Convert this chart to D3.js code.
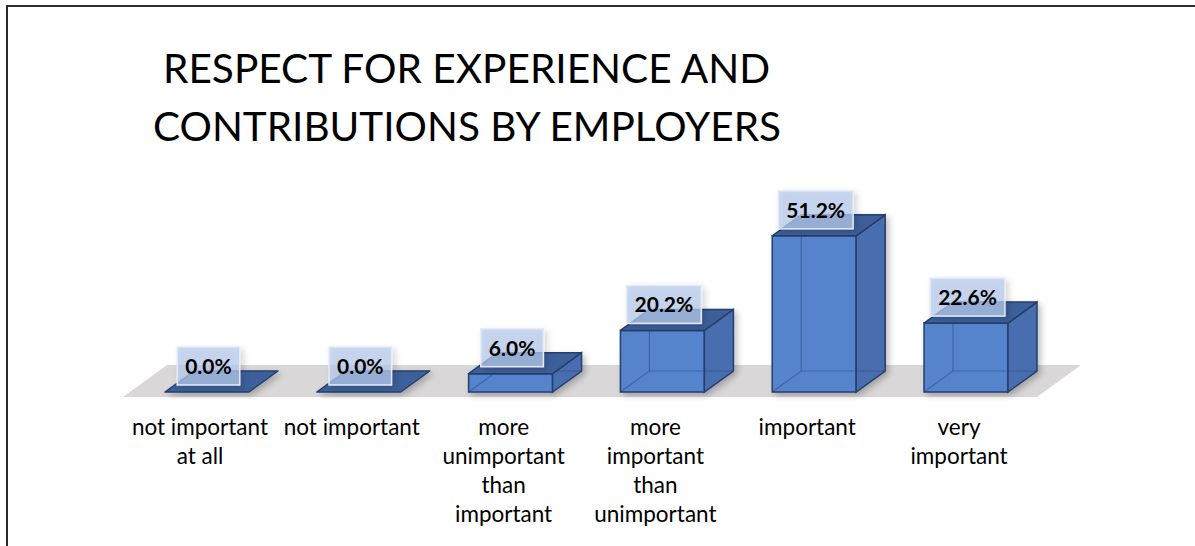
<!DOCTYPE html>
<html><head><meta charset="utf-8">
<script src="https://cdn.jsdelivr.net/npm/d3@7/dist/d3.min.js"></script>
<style>html,body{margin:0;padding:0;background:#fff;}svg{display:block;}</style>
</head><body>
<svg id="chart" width="1195" height="546"></svg>
<script>
// ---- data ----
const titleLines = ["RESPECT FOR EXPERIENCE AND", "CONTRIBUTIONS BY EMPLOYERS"];
const categories = ["not important at all", "not important", "more unimportant than important",
                    "more important than unimportant", "important", "very important"];
const categoryLines = [["not important", "at all"], ["not important"], ["more", "unimportant", "than", "important"],
                       ["more", "important", "than", "unimportant"], ["important"], ["very", "important"]];
const values = [0.0, 0.0, 6.0, 20.2, 51.2, 22.6];
const valueLabels = ["0.0%", "0.0%", "6.0%", "20.2%", "51.2%", "22.6%"];

// ---- layout ----
const svg = d3.select("#chart");
const FONT = "Lato, 'Open Sans', sans-serif";
const DX = 29, DY = 21;          // bar depth offset
const FDX = 44, FDY = 32;        // floor depth offset

const x = d3.scaleBand().domain(categories).range([165, 1008]).paddingInner(0.447).paddingOuter(0);
const y = d3.scaleLinear().domain([0, 60]).range([392, 209]);

const defs = svg.append("defs");
const sh = defs.append("filter").attr("id", "shadow").attr("x", "-30%").attr("y", "-30%").attr("width", "160%").attr("height", "160%");
sh.append("feDropShadow").attr("dx", 3).attr("dy", 3).attr("stdDeviation", 3).attr("flood-color", "#000").attr("flood-opacity", 0.25);
const sh2 = defs.append("filter").attr("id", "lshadow").attr("x", "-30%").attr("y", "-30%").attr("width", "160%").attr("height", "160%");
sh2.append("feDropShadow").attr("dx", 3).attr("dy", 3).attr("stdDeviation", 3).attr("flood-color", "#000").attr("flood-opacity", 0.2);

// frame
svg.append("rect").attr("x", 7).attr("y", 6).attr("width", 1300).attr("height", 700)
  .attr("fill", "none").attr("stroke", "#2b2b2b").attr("stroke-width", 2);

// helper to fit text widths
function fitText(sel, target, min, max) {
  const w = sel.node().getComputedTextLength();
  if (w > 0) {
    const r = target / w;
    if (r > min && r < max) sel.attr("textLength", target).attr("lengthAdjust", "spacingAndGlyphs");
  }
}

// title
const titleX = [163, 153], titleW = [607, 628], titleY = [83, 141];
titleLines.forEach((t, i) => {
  const s = svg.append("text").attr("x", titleX[i]).attr("y", titleY[i])
    .attr("font-family", FONT).attr("font-size", 40).attr("fill", "#000").text(t);
  fitText(s, titleW[i], 0.8, 1.25);
});

// floor
const x0 = x.range()[0], x1 = x.range()[1];
const fy = y(0) + 5;
const floorPts = [[x0 - 42, fy], [x1 + 29, fy], [x1 + 29 + FDX, fy - FDY], [x0 - 42 + FDX, fy - FDY]];
svg.append("polygon").attr("points", floorPts.map(p => p.join(",")).join(" ")).attr("fill", "#d9d7d8");

// bars
const g = svg.append("g");
categories.forEach((c, i) => {
  const v = values[i];
  const xl = x(c), xr = x(c) + x.bandwidth();
  const yb = y(0), yt = y(v);
  const bg = g.append("g").attr("filter", "url(#shadow)");
  const pts = a => a.map(p => p.join(",")).join(" ");
  const edge = "#243f6e";
  if (yb - yt > 0.5) {
    bg.append("polygon").attr("points", pts([[xl, yt], [xr, yt], [xr, yb], [xl, yb]]))
      .attr("fill", "#5584cd").attr("stroke", edge).attr("stroke-width", 1.5);
    bg.append("polygon").attr("points", pts([[xr, yt], [xr + DX, yt - DY], [xr + DX, yb - DY], [xr, yb]]))
      .attr("fill", "#4a6eb0").attr("stroke", edge).attr("stroke-width", 1.5);
    const hid = "rgba(35,65,120,0.45)";
    bg.append("line").attr("x1", xl).attr("y1", yb).attr("x2", xl + DX).attr("y2", yb - DY).attr("stroke", hid).attr("stroke-width", 1.2);
    bg.append("line").attr("x1", xl + DX).attr("y1", yb - DY).attr("x2", xl + DX).attr("y2", yt - DY).attr("stroke", hid).attr("stroke-width", 1.2);
    bg.append("line").attr("x1", xl + DX).attr("y1", yb - DY).attr("x2", xr + DX).attr("y2", yb - DY).attr("stroke", hid).attr("stroke-width", 1.2);
  }
  bg.append("polygon").attr("points", pts([[xl, yt], [xr, yt], [xr + DX, yt - DY], [xl + DX, yt - DY]]))
    .attr("fill", "#3d5e9a").attr("stroke", edge).attr("stroke-width", 1.5).attr("stroke-linejoin", "round");
});

// value labels
const lab = svg.append("g");
categories.forEach((c, i) => {
  const cx = x(c) + x.bandwidth() / 2 + 1.5;
  const cy = y(values[i]) - DY - 5;
  const lg = lab.append("g");
  const t = lg.append("text").attr("x", cx).attr("y", cy + 8).attr("text-anchor", "middle")
    .attr("font-family", FONT).attr("font-weight", "bold").attr("font-size", 21).attr("fill", "#000")
    .text(valueLabels[i]);
  const w = t.node().getComputedTextLength() + 16;
  lg.insert("rect", "text").attr("x", cx - w / 2).attr("y", cy - 19).attr("width", w).attr("height", 38)
    .attr("fill", "#b7cbeb").attr("fill-opacity", 0.72).attr("stroke", "#e4ecf8").attr("stroke-width", 1.5)
    .attr("filter", "url(#lshadow)");
});

// category labels
const cl = svg.append("g");
categories.forEach((c, i) => {
  const cx = x(c) + x.bandwidth() / 2 - 7;
  categoryLines[i].forEach((ln, j) => {
    cl.append("text").attr("x", cx).attr("y", 435 + j * 29).attr("text-anchor", "middle")
      .attr("font-family", FONT).attr("font-size", 22.5).attr("fill", "#000").text(ln);
  });
});
</script>
</body></html>
